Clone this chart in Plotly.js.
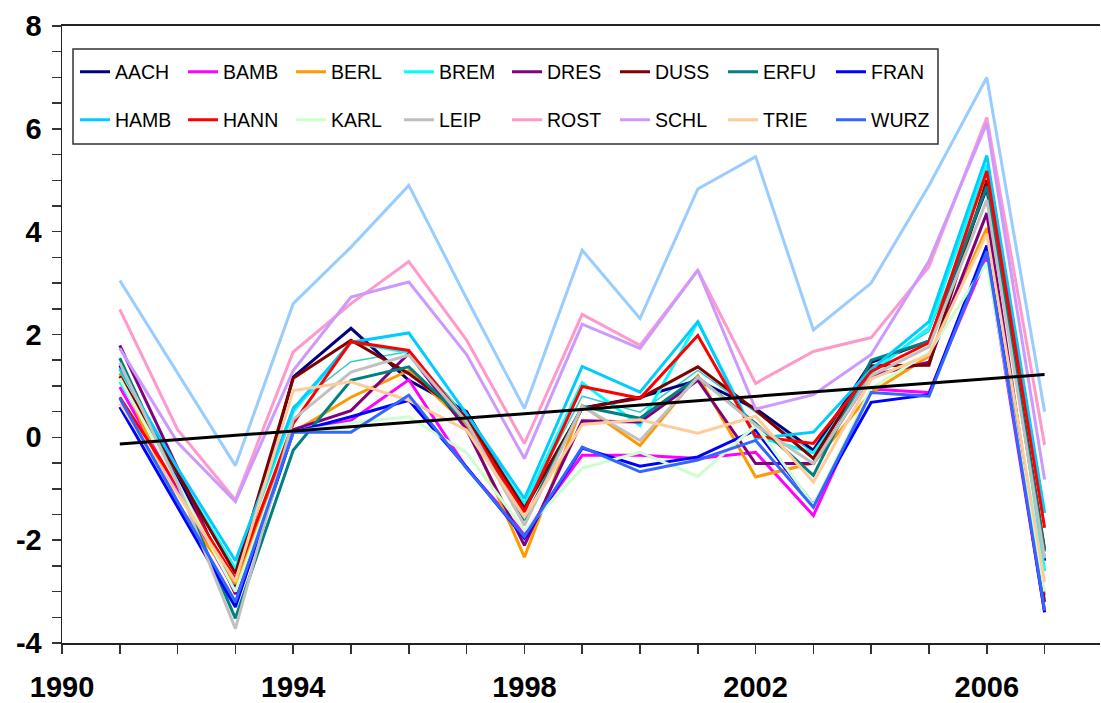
<!DOCTYPE html>
<html>
<head>
<meta charset="utf-8">
<script src="https://cdn.plot.ly/plotly-3.0.1.min.js"></script>
<style>
  html, body { margin: 0; padding: 0; background: #ffffff; }
  #chart { width: 1101px; height: 703px; }
</style>
</head>
<body>
<div id="chart"></div>
<script>
// Annual anomalies per station, 1991-2007
const years = [1991, 1992, 1993, 1994, 1995, 1996, 1997, 1998, 1999, 2000, 2001, 2002, 2003, 2004, 2005, 2006, 2007];

const AACH = [1.40, -0.75, -2.95, 1.17, 2.12, 1.11, 0.50, -1.40, 0.57, 0.78, 1.11, 0.56, -0.25, 1.46, 1.87, 4.85, -2.40];
const BAMB = [0.98, -1.00, -3.00, 0.10, 0.33, 1.12, -0.60, -1.87, -0.35, -0.35, -0.41, -0.29, -1.52, 0.94, 0.87, 3.51, -3.40];
const BERL = [1.25, -1.30, -2.85, 0.10, 0.78, 1.30, 0.25, -2.33, 0.62, -0.16, 1.20, -0.77, -0.50, 0.87, 1.58, 4.07, -3.07];
const BREM = [1.08, -0.70, -2.55, 0.50, 1.85, 1.65, 0.35, -1.30, 1.06, 0.23, 2.25, 0.02, -0.30, 1.25, 2.13, 5.30, -2.60];
const DRES = [1.79, -0.60, -3.05, 0.15, 0.52, 1.63, 0.15, -2.10, 0.32, 0.30, 1.11, -0.51, -0.51, 1.20, 1.46, 4.36, -3.20];
const DUSS = [1.19, -0.70, -2.65, 1.15, 1.89, 1.24, 0.40, -1.38, 0.57, 0.76, 1.37, 0.53, -0.41, 1.39, 1.40, 5.00, -2.18];
const ERFU = [1.54, -0.90, -3.52, -0.25, 1.11, 1.37, 0.30, -1.61, 0.60, 0.37, 1.17, 0.27, -0.74, 1.50, 1.87, 4.88, -2.22];
const FRAN = [0.59, -1.35, -3.30, 0.10, 0.40, 0.72, -0.58, -1.96, -0.21, -0.56, -0.38, 0.14, -1.31, 0.68, 0.83, 3.73, -3.40];
const HAMB = [1.33, -0.60, -2.40, 0.55, 1.85, 2.03, 0.45, -1.19, 1.38, 0.88, 2.25, -0.02, 0.10, 1.32, 2.25, 5.48, -1.47];
const HANN = [0.78, -0.95, -2.75, 0.27, 1.86, 1.69, 0.30, -1.45, 0.99, 0.76, 1.98, 0.02, -0.12, 1.28, 1.84, 5.18, -1.76];
const KARL = [1.15, -0.90, -3.00, 0.10, 0.28, 0.40, -0.30, -1.81, -0.60, -0.29, -0.76, 0.23, -1.32, 0.95, 1.65, 3.40, -3.00];
const LEIP = [1.45, -0.90, -3.72, 0.35, 1.27, 1.60, 0.30, -1.71, 0.60, -0.06, 1.17, 0.24, -0.51, 1.20, 1.76, 4.62, -2.35];
const ROST = [2.49, 0.15, -1.22, 1.66, 2.60, 3.42, 1.89, -0.12, 2.39, 1.79, 3.25, 1.05, 1.67, 1.94, 3.32, 6.22, -0.15];
const SCHL = [1.73, -0.10, -1.25, 1.30, 2.73, 3.02, 1.61, -0.41, 2.20, 1.73, 3.25, 0.55, 0.83, 1.61, 3.43, 6.11, -0.82];
const TRIE = [0.66, -1.10, -2.80, 0.91, 1.08, 0.72, 0.14, -1.55, 0.25, 0.34, 0.08, 0.41, -0.87, 1.13, 1.61, 3.96, -2.81];
const WURZ = [0.76, -1.25, -3.20, 0.10, 0.10, 0.82, -0.60, -1.93, -0.19, -0.67, -0.44, -0.06, -1.36, 0.87, 0.80, 3.62, -3.37];

// Two further series drawn without a legend entry
const unlabeledHigh = [3.05, 1.25, -0.55, 2.60, 3.70, 4.90, 2.70, 0.56, 3.64, 2.31, 4.83, 5.46, 2.09, 3.00, 4.90, 7.00, 0.50];
const unlabeledThin = [1.35, -0.70, -2.60, 0.60, 1.47, 1.67, 0.40, -1.35, 0.80, 0.49, 1.30, 0.49, -0.30, 1.35, 2.06, 4.90, -2.30];

// Linear trend, start and end
const trendYears = [1991, 2007];
const trendValues = [-0.13, 1.22];

const stationNames = ['AACH', 'BAMB', 'BERL', 'BREM', 'DRES', 'DUSS', 'ERFU', 'FRAN',
                      'HAMB', 'HANN', 'KARL', 'LEIP', 'ROST', 'SCHL', 'TRIE', 'WURZ'];
const stationSeries = [AACH, BAMB, BERL, BREM, DRES, DUSS, ERFU, FRAN,
                       HAMB, HANN, KARL, LEIP, ROST, SCHL, TRIE, WURZ];

const yTickValues = [-4, -2, 0, 2, 4, 6, 8];
const yTickLabels = ['-4', '-2', '0', '2', '4', '6', '8'];
const xTickValues = [1990, 1994, 1998, 2002, 2006];
const xTickLabels = ['1990', '1994', '1998', '2002', '2006'];

// Line colours per station
const stationColors = ['#000080', '#FF00FF', '#FF9900', '#00FFFF', '#800080', '#800000', '#008080', '#0000FF',
                       '#00CCFF', '#FF0000', '#CCFFCC', '#C0C0C0', '#FF99CC', '#CC99FF', '#FFCC99', '#3366FF'];

// Plot-area geometry in pixels
const W = 1101, H = 703;
const M = { l: 62, r: 1, t: 26, b: 60 };
const plotW = W - M.l - M.r, plotH = H - M.t - M.b;
const px = x => (x - M.l) / plotW;
const py = y => (H - M.b - y) / plotH;

const traces = [];
traces.push({
  x: years, y: unlabeledHigh, type: 'scatter', mode: 'lines',
  line: { color: '#99CCFF', width: 3 }, showlegend: false, hoverinfo: 'skip'
});
traces.push({
  x: years, y: unlabeledThin, type: 'scatter', mode: 'lines',
  line: { color: '#33CCCC', width: 1.5 }, showlegend: false, hoverinfo: 'skip'
});
stationNames.forEach((name, i) => {
  traces.push({
    x: years, y: stationSeries[i], name: name, type: 'scatter', mode: 'lines',
    line: { color: stationColors[i], width: 3 },
    legend: i < 8 ? 'legend' : 'legend2'
  });
});
traces.push({
  x: trendYears, y: trendValues, type: 'scatter', mode: 'lines',
  line: { color: '#000000', width: 3 }, showlegend: false, hoverinfo: 'skip'
});

const tickFont = { family: 'Liberation Sans, Arial, sans-serif', size: 29, color: '#000000', weight: 'bold' };
const legendFont = { family: 'Liberation Sans, Arial, sans-serif', size: 19.5, color: '#000000' };

const legendCommon = {
  orientation: 'h', xanchor: 'left', yanchor: 'middle',
  bgcolor: 'rgba(0,0,0,0)', borderwidth: 0, font: legendFont,
  entrywidth: 63, entrywidthmode: 'pixels', traceorder: 'normal', itemwidth: 30
};

const layout = {
  width: W, height: H,
  margin: M,
  paper_bgcolor: '#ffffff', plot_bgcolor: '#ffffff',
  showlegend: true,
  legend: Object.assign({ x: px(75), y: py(72) }, legendCommon),
  legend2: Object.assign({ x: px(75), y: py(120) }, legendCommon),
  xaxis: {
    range: [1990, 1990 + plotW / 57.8],
    tickmode: 'array', tickvals: xTickValues, ticktext: xTickLabels,
    ticks: 'outside', ticklen: 9, tickwidth: 1.5, tickcolor: '#333333',
    minor: { dtick: 1, tick0: 1990, ticks: 'outside', ticklen: 9, tickwidth: 1.5, tickcolor: '#333333', showgrid: false },
    showline: true, linecolor: '#222222', linewidth: 2, mirror: true,
    showgrid: false, zeroline: false,
    tickfont: tickFont, ticklabelstandoff: 8
  },
  yaxis: {
    range: [-4, 8],
    tickmode: 'array', tickvals: yTickValues, ticktext: yTickLabels,
    ticks: 'outside', ticklen: 9, tickwidth: 1.5, tickcolor: '#333333',
    minor: { dtick: 0.5, tick0: 0, ticks: 'outside', ticklen: 9, tickwidth: 1.5, tickcolor: '#333333', showgrid: false },
    showline: true, linecolor: '#222222', linewidth: 1.5,
    showgrid: false, zeroline: false,
    tickfont: tickFont, ticklabelstandoff: 4
  },
  yaxis2: {
    overlaying: 'y', side: 'right', range: [-4, 8],
    tickmode: 'array', tickvals: yTickValues,
    ticks: 'inside', ticklen: 5, tickwidth: 3, tickcolor: '#000000',
    showticklabels: false, showline: false, showgrid: false, zeroline: false
  },
  shapes: [{
    type: 'rect', xref: 'paper', yref: 'paper',
    x0: px(73), x1: px(938), y0: py(144), y1: py(49),
    line: { color: '#333333', width: 1.5 }, fillcolor: 'rgba(0,0,0,0)', layer: 'above'
  }]
};

Plotly.newPlot('chart', traces, layout, { displayModeBar: false, staticPlot: true });
</script>
</body>
</html>
